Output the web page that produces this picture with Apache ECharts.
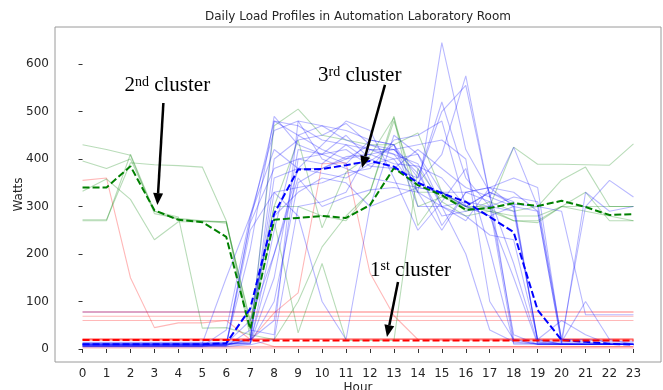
<!DOCTYPE html>
<html>
<head>
<meta charset="utf-8">
<script src="https://cdn.jsdelivr.net/npm/echarts@6/dist/echarts.min.js"></script>
<style>
  html, body { margin: 0; padding: 0; background: #fff; }
  #chart { width: 663px; height: 390px; }
</style>
</head>
<body>
<div id="chart"></div>
<script>
// Hours of the day (x axis) and tick values
const hours = [0,1,2,3,4,5,6,7,8,9,10,11,12,13,14,15,16,17,18,19,20,21,22,23];
const hourTicks = [0,1,2,3,4,5,6,7,8,9,10,11,12,13,14,15,16,17,18,19,20,21,22,23];
const wattTicks = [0,100,200,300,400,500,600];

// 1st cluster: near-idle days (red)
const cluster1Profiles = [
  [355,360,150,45,55,55,60,20,5,5,5,5,5,5,5,5,5,5,5,5,5,5,5,5],
  [78,78,78,78,78,78,78,78,78,78,78,78,78,78,78,78,78,78,78,78,78,78,78,78],
  [78,78,78,78,78,78,78,78,78,78,78,78,78,78,78,78,78,78,78,78,78,78,78,78],
  [69,69,69,69,69,69,69,69,69,69,69,69,69,69,69,69,69,69,69,69,69,69,69,69],
  [60,60,60,60,60,60,60,60,60,60,60,60,60,60,60,60,60,60,60,60,60,60,60,60],
  [18,18,18,18,18,18,18,18,76,118,390,392,160,70,20,18,18,18,18,18,18,18,18,18],
  [21,21,21,21,21,21,21,21,21,21,21,21,21,21,21,21,21,21,21,21,21,21,21,21],
  [21,21,21,21,21,21,21,21,21,21,21,21,21,21,21,21,21,21,21,21,21,21,21,21],
  [21,21,21,21,21,21,21,21,21,21,21,21,21,21,21,21,21,21,21,21,21,21,21,21],
  [20,20,20,20,20,20,20,20,20,20,20,20,20,20,20,20,20,20,20,20,20,20,20,20],
  [5,5,5,5,5,5,5,5,5,5,5,5,5,5,5,5,5,5,5,5,5,5,5,5],
  [2,2,2,2,2,2,2,2,2,2,2,2,2,2,2,2,2,2,2,2,2,2,2,2]
];

// 2nd cluster: days with a steady ~300 W base load (green)
const cluster2Profiles = [
  [430,420,408,285,275,270,268,25,470,505,450,440,430,430,455,330,300,300,425,389,389,388,387,432],
  [396,380,400,290,278,44,45,30,20,100,215,280,330,480,330,330,290,310,290,300,356,383,300,300],
  [272,272,392,388,386,383,270,40,270,34,180,18,18,18,380,310,280,290,280,280,300,330,270,270],
  [270,270,410,290,272,270,265,60,300,300,280,270,330,490,300,320,300,290,270,270,300,300,300,300],
  [332,358,315,230,268,268,268,55,300,440,255,372,407,487,260,330,295,295,270,266,300,290,280,270]
];

// 3rd cluster: working days with occupancy from 7-8 h to 18-20 h (blue)
const cluster3Profiles = [
  [8,8,8,8,8,8,8,270,480,470,440,430,420,400,330,645,420,330,310,15,10,10,10,10],
  [10,10,10,10,10,10,12,12,400,440,450,475,430,410,350,410,575,320,300,290,12,10,10,10],
  [12,12,12,12,12,12,12,210,490,430,410,390,440,430,360,500,555,320,180,12,12,12,12,12],
  [6,6,6,6,6,6,40,280,460,480,470,440,420,420,380,260,330,340,360,340,15,15,10,10],
  [10,10,10,10,10,10,10,12,100,350,380,405,410,390,385,360,300,330,305,300,290,72,72,72],
  [5,5,5,5,5,5,12,60,200,360,300,320,335,340,330,300,280,240,230,20,10,10,10,10],
  [8,8,8,8,8,8,8,20,60,400,410,420,385,380,360,520,360,300,12,12,10,10,10,10],
  [10,10,10,10,10,10,10,15,200,380,430,480,460,360,250,310,380,210,10,10,10,10,10,10],
  [7,7,7,7,7,7,7,250,330,280,100,20,300,450,410,330,300,280,150,10,10,10,10,10],
  [9,9,9,9,9,9,9,265,380,400,390,430,395,430,300,300,310,300,290,20,60,30,10,10],
  [12,12,12,12,12,12,12,12,150,420,410,450,400,380,420,380,340,320,425,300,20,300,355,320],
  [6,6,6,6,6,6,6,40,30,480,400,380,360,350,340,330,330,340,300,15,15,100,20,10],
  [10,10,10,10,10,10,10,20,330,340,350,370,380,440,450,480,300,330,20,10,10,10,10,10],
  [8,8,8,8,8,8,8,20,480,450,420,400,410,420,430,440,400,100,20,10,10,10,10,10],
  [11,11,11,11,11,12,150,280,420,380,370,360,390,400,410,300,200,40,15,10,10,10,10,10],
  [9,9,9,9,9,9,9,9,20,300,310,330,420,410,390,300,270,340,330,290,10,330,290,300],
  [5,5,5,5,5,5,5,10,250,450,470,460,440,430,330,250,330,310,30,10,10,10,10,10],
  [14,14,14,14,14,14,14,20,360,380,380,400,430,420,370,280,290,300,320,310,20,20,15,15],
  [78,78,78,78,78,78,78,78,280,330,360,350,300,320,340,330,300,280,300,20,10,10,10,10]
];

// Cluster centroids (dashed)
const cluster1Mean = [19,19,19,19,19,19,19,18,18,18,18,18,18,18,18,18,18,18,18,18,18,18,18,18];
const cluster2Mean = [340,340,385,292,272,267,236,42,272,276,280,276,303,381,345,324,293,297,307,301,312,299,282,284];
const cluster3Mean = [10,10,10,10,10,10,12,85,285,378,379,387,396,384,350,328,310,278,246,82,19,15,11,9];

// Cluster call-outs: label position, arrow tail and arrow tip in (hour, watts)
const annotations = [
  { num: '2', sup: 'nd', textAt: [1.75, 554], tail: [3.375, 518], tip: [3.125, 303] },
  { num: '3', sup: 'rd', textAt: [9.83, 575], tail: [12.625, 556], tip: [11.667, 381] },
  { num: '1', sup: 'st', textAt: [12.0, 166], tail: [13.17, 141], tip: [12.71, 25] }
];

const RED = '#ff0000', GREEN = '#008000', BLUE = '#0000ff';

function toPairs(values) {
  return hours.map((h, i) => [h, values[i]]);
}
function thinSeries(values, color) {
  return {
    type: 'line', data: toPairs(values), symbol: 'none', silent: true,
    lineStyle: { color: color, width: 1.1, opacity: 0.28 }, z: 2
  };
}
function meanSeries(values, color) {
  return {
    type: 'line', data: toPairs(values), symbol: 'none', silent: true,
    lineStyle: { color: color, width: 2, type: [7, 3] }, z: 3
  };
}

const series = []
  .concat(cluster1Profiles.map(p => thinSeries(p, RED)))
  .concat(cluster2Profiles.map(p => thinSeries(p, GREEN)))
  .concat(cluster3Profiles.map(p => thinSeries(p, BLUE)))
  .concat([meanSeries(cluster2Mean, GREEN), meanSeries(cluster3Mean, BLUE), meanSeries(cluster1Mean, RED)]);

const tickFont = { fontFamily: 'DejaVu Sans', fontSize: 12, color: '#262626' };

const option = {
  animation: false,
  backgroundColor: '#fff',
  title: {
    text: 'Daily Load Profiles in Automation Laboratory Room',
    left: 358, top: 11, textAlign: 'center', padding: 0,
    textStyle: { fontFamily: 'DejaVu Sans', fontSize: 12, fontWeight: 'normal', color: '#262626' }
  },
  grid: {
    left: 55, right: 2, top: 27, bottom: 28,
    show: true, borderColor: '#9a9a9a', borderWidth: 1,
    containLabel: false, outerBoundsMode: 'none'
  },
  xAxis: {
    type: 'value', min: -1.15, max: 24.15,
    name: 'Hour', nameLocation: 'middle', nameGap: 20, nameMoveOverlap: false,
    nameTextStyle: tickFont,
    axisLine: { show: false },
    axisTick: { show: true, length: 4, customValues: hourTicks, lineStyle: { color: '#333' } },
    axisLabel: Object.assign({ customValues: hourTicks, margin: 6 }, tickFont),
    splitLine: { show: false }
  },
  yAxis: {
    type: 'value', min: -27.4, max: 678,
    name: 'Watts', nameLocation: 'middle', nameGap: 30, nameRotate: 90, nameMoveOverlap: false,
    nameTextStyle: tickFont,
    axisLine: { show: false },
    axisTick: { show: true, length: 4, customValues: wattTicks, lineStyle: { color: '#333' } },
    axisLabel: Object.assign({ customValues: wattTicks, margin: 6 }, tickFont),
    splitLine: { show: false }
  },
  series: series
};

const chart = echarts.init(document.getElementById('chart'), null, { renderer: 'canvas' });
chart.setOption(option);

// Call-out labels with arrows, placed in data coordinates
const toPx = p => chart.convertToPixel({ xAxisIndex: 0, yAxisIndex: 0 }, p);
const graphics = [];
annotations.forEach(a => {
  const t = toPx(a.textAt);
  graphics.push({
    type: 'text', x: t[0], y: t[1], z: 10,
    style: {
      text: '{n|' + a.num + '}{s|' + a.sup + '}{n| cluster}',
      align: 'left', verticalAlign: 'middle', fill: '#000',
      rich: {
        n: { fontFamily: 'Liberation Serif', fontSize: 21, fill: '#000' },
        s: { fontFamily: 'Liberation Serif', fontSize: 14, lineHeight: 10, verticalAlign: 'top', fill: '#000' }
      }
    }
  });
  const tail = toPx(a.tail), tip = toPx(a.tip);
  const dx = tip[0] - tail[0], dy = tip[1] - tail[1];
  const len = Math.hypot(dx, dy), ux = dx / len, uy = dy / len;
  const headLen = 12, headHalf = 5;
  const base = [tip[0] - ux * headLen, tip[1] - uy * headLen];
  graphics.push({
    type: 'line', z: 10,
    shape: { x1: tail[0], y1: tail[1], x2: base[0], y2: base[1] },
    style: { stroke: '#000', lineWidth: 2.5 }
  });
  graphics.push({
    type: 'polygon', z: 10,
    shape: { points: [tip, [base[0] - uy * headHalf, base[1] + ux * headHalf], [base[0] + uy * headHalf, base[1] - ux * headHalf]] },
    style: { fill: '#000' }
  });
});
chart.setOption({ graphic: graphics });
</script>
</body>
</html>
